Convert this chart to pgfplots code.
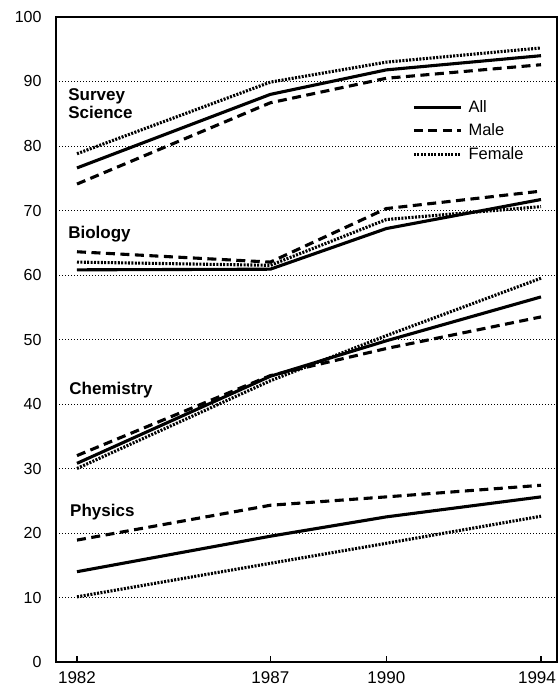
\documentclass[border=0pt]{standalone}
\usepackage{pgfplots}
\pgfplotsset{compat=1.18}
\usepackage{fontspec}
\setmainfont{Liberation Sans}
\begin{document}
\begin{tikzpicture}[x=1pt,y=1pt]
\path[use as bounding box] (-56,-25) rectangle (502,662);
\begin{axis}[at={(0,0)}, anchor=south west, scale only axis,
  width=501pt, height=645pt,
  xmin=1981.457, xmax=1994.414, ymin=0, ymax=100,
  xtick={1982,1987,1990,1994},
  xticklabels={1982,1987,1990,\hspace*{-8pt}1994},
  ytick={0,10,...,100},
  ymajorgrids,
  grid style={black, line width=0.6pt, dash pattern=on 1pt off 2pt},
  axis line style={black, line width=1.2pt},
  xtick style={black, line width=1.2pt},
  major tick length=6pt,
  xtick pos=bottom, xtick align=inside,
  ytick style={draw=none},
  ytick pos=left,
  tick label style={font=\fontsize{16}{18}\selectfont},
  /pgf/number format/assume math mode=true,
  yticklabel style={xshift=-11pt},
  xticklabel style={yshift=-6pt, font=\fontsize{17}{18}\selectfont},
  legend style={at={(rel axis cs:0.705,0.877)}, anchor=north west, draw=none, fill=none,
    font=\fontsize{16.5}{18}\selectfont, row sep=6pt, column sep=4pt},
  legend cell align=left,
  legend image code/.code={\draw[#1] (0pt,0pt) -- (47pt,0pt);},
  every axis plot/.append style={black, line width=3.1pt, line join=round},
  clip=false,
]
% Survey Science
\addplot[solid] coordinates {(1982,76.6) (1987,88.0) (1990,91.8) (1994,94.0)};
\addlegendentry{All}
\addplot[dash pattern=on 9pt off 5.5pt] coordinates {(1982,74.1) (1987,86.7) (1990,90.5) (1994,92.6)};
\addlegendentry{Male}
\addplot[dash pattern=on 2pt off 1.4pt] coordinates {(1982,78.8) (1987,89.9) (1990,93.0) (1994,95.2)};
\addlegendentry{Female}
% Biology
\addplot[solid, forget plot] coordinates {(1982,60.8) (1987,60.9) (1990,67.2) (1994,71.7)};
\addplot[dash pattern=on 9pt off 5.5pt, forget plot] coordinates {(1982,63.6) (1987,62.0) (1990,70.3) (1994,73.0)};
\addplot[dash pattern=on 2pt off 1.4pt, forget plot] coordinates {(1982,62.0) (1987,61.5) (1990,68.6) (1994,70.6)};
% Chemistry
\addplot[solid, forget plot] coordinates {(1982,30.8) (1987,44.3) (1990,49.8) (1994,56.6)};
\addplot[dash pattern=on 9pt off 5.5pt, forget plot] coordinates {(1982,32.0) (1987,44.4) (1990,48.6) (1994,53.5)};
\addplot[dash pattern=on 2pt off 1.4pt, forget plot] coordinates {(1982,30.0) (1987,43.6) (1990,50.6) (1994,59.5)};
% Physics
\addplot[solid, forget plot] coordinates {(1982,14.0) (1987,19.5) (1990,22.5) (1994,25.6)};
\addplot[dash pattern=on 9pt off 5.5pt, forget plot] coordinates {(1982,18.9) (1987,24.3) (1990,25.6) (1994,27.4)};
\addplot[dash pattern=on 2pt off 1.4pt, forget plot] coordinates {(1982,10.1) (1987,15.3) (1990,18.4) (1994,22.6)};
% labels
\node[anchor=west, align=left, font=\bfseries\fontsize{17}{18.5}\selectfont, inner sep=0pt] at (axis cs:1981.77,86.6) {Survey\\Science};
\node[anchor=west, font=\bfseries\fontsize{17}{18.5}\selectfont, inner sep=0pt] at (axis cs:1981.77,66.3) {Biology};
\node[anchor=west, font=\bfseries\fontsize{17}{18.5}\selectfont, inner sep=0pt] at (axis cs:1981.80,42.2) {Chemistry};
\node[anchor=west, font=\bfseries\fontsize{17}{18.5}\selectfont, inner sep=0pt] at (axis cs:1981.82,23.2) {Physics};
\draw[black, line width=2.4pt] (rel axis cs:0,0) -- (rel axis cs:0,1);
\draw[black, line width=2.4pt] (rel axis cs:0,0) -- (rel axis cs:1,0);
\end{axis}
\end{tikzpicture}
\end{document}
